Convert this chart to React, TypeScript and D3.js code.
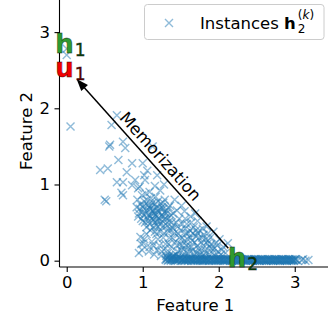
import React, { useEffect, useRef } from 'react'
import * as d3 from 'd3'

// axis limits and ticks
const xDomain: [number, number] = [-0.095, 3.477]
const yDomain: [number, number] = [-0.083, 3.487]
const xTicks = [0, 1, 2, 3]
const yTicks = [0, 1, 2, 3]

// instances h2^(k): sparse upper-left part
const spreadPoints: [number, number][] = [
  [0.05, 1.76], [0.66, 1.91], [0.59, 1.78], [0.57, 1.52], [0.56, 1.5], [0.74, 1.56],
  [0.77, 1.48], [0.68, 1.32], [0.86, 1.28], [0.44, 1.19], [0.54, 1.21], [0.79, 1.16],
  [1.0, 1.28], [1.13, 1.5], [0.66, 1.03], [0.74, 1.03], [0.86, 0.99], [0.96, 0.97],
  [1.03, 1.06], [1.19, 1.12], [0.72, 0.89], [0.5, 0.8], [0.52, 0.78], [0.74, 0.86],
  [0.94, 0.95], [1.09, 0.9], [1.23, 0.92], [1.02, 1.12], [1.06, 1.18], [0.9, 1.06],
  [1.28, 1.0], [1.16, 0.98],
]

// dense core
const corePoints: [number, number][] = [
  [0.93, 0.8], [0.97, 0.74], [1.0, 0.7], [1.02, 0.78], [1.05, 0.66], [1.07, 0.73],
  [1.08, 0.6], [1.1, 0.68], [1.12, 0.55], [1.13, 0.76], [1.15, 0.62], [1.16, 0.5],
  [1.18, 0.7], [1.19, 0.58], [1.2, 0.45], [1.21, 0.64], [1.22, 0.52], [1.24, 0.75],
  [1.25, 0.6], [1.26, 0.44], [1.27, 0.68], [1.28, 0.54], [1.3, 0.48], [1.31, 0.62],
  [1.33, 0.4], [1.34, 0.56], [0.95, 0.62], [0.98, 0.55], [1.01, 0.6], [1.03, 0.5],
  [1.06, 0.56], [1.09, 0.48], [1.11, 0.82], [1.14, 0.44], [1.17, 0.84], [1.2, 0.78],
  [1.23, 0.38], [1.29, 0.8], [1.36, 0.72], [1.38, 0.5], [0.99, 0.86], [1.04, 0.88],
  [1.15, 0.66], [1.19, 0.52], [1.12, 0.62], [1.08, 0.7], [1.25, 0.7], [1.32, 0.66],
  [0.92, 0.7], [1.4, 0.62], [0.96, 0.68], [0.99, 0.64], [1.02, 0.72], [1.04, 0.62],
  [1.06, 0.8], [1.08, 0.52], [1.1, 0.58], [1.11, 0.72], [1.13, 0.66], [1.14, 0.54],
  [1.16, 0.74], [1.17, 0.6], [1.18, 0.46], [1.2, 0.66], [1.21, 0.56], [1.23, 0.68],
  [1.24, 0.48], [1.26, 0.58], [1.27, 0.76], [1.29, 0.64], [1.3, 0.56], [1.32, 0.46],
  [1.34, 0.7], [1.35, 0.52], [1.37, 0.6], [1.39, 0.44], [1.05, 0.44], [1.1, 0.4],
  [1.16, 0.38], [1.28, 0.36], [0.94, 0.58], [1.0, 0.52],
]

// lower middle
const lowerPoints: [number, number][] = [
  [0.97, 0.31], [1.01, 0.23], [0.95, 0.1], [1.12, 0.25], [0.99, 0.14], [1.25, 0.12],
  [1.27, 0.3], [1.18, 0.35], [1.05, 0.35], [1.22, 0.2], [1.3, 0.22], [1.33, 0.1],
  [1.15, 0.08], [1.2, 0.28], [1.35, 0.3], [1.09, 0.18], [1.02, 0.28], [1.08, 0.12],
  [1.14, 0.2], [1.24, 0.06], [1.3, 0.16], [1.34, 0.22], [1.19, 0.14], [0.98, 0.22],
]

// right part, under the arrow
const rightPoints: [number, number][] = [
  [1.42, 0.8], [1.45, 0.66], [1.48, 0.55], [1.5, 0.4], [1.52, 0.3], [1.55, 0.65],
  [1.57, 0.2], [1.58, 0.48], [1.6, 0.36], [1.62, 0.12], [1.63, 0.58], [1.65, 0.26],
  [1.67, 0.44], [1.68, 0.08], [1.7, 0.32], [1.72, 0.52], [1.73, 0.16], [1.75, 0.4],
  [1.77, 0.24], [1.78, 0.06], [1.8, 0.34], [1.82, 0.14], [1.84, 0.45], [1.85, 0.22],
  [1.87, 0.08], [1.89, 0.3], [1.91, 0.16], [1.93, 0.38], [1.95, 0.06], [1.97, 0.24],
  [1.99, 0.12], [2.01, 0.28], [2.03, 0.08], [2.06, 0.18], [2.09, 0.1], [2.12, 0.23],
  [1.4, 0.42], [1.43, 0.25], [1.46, 0.12], [1.47, 0.35], [1.53, 0.08], [1.56, 0.42],
  [1.59, 0.28], [1.61, 0.05], [1.64, 0.18], [1.69, 0.62], [1.71, 0.1], [1.74, 0.3],
  [1.79, 0.42], [1.83, 0.28], [1.88, 0.18], [1.38, 0.18], [1.41, 0.06], [1.44, 0.5],
  [1.51, 0.72], [1.54, 0.15], [1.66, 0.36], [1.76, 0.12], [1.86, 0.36], [1.92, 0.1],
  [2.0, 0.05], [1.49, 0.22], [1.58, 0.1], [1.62, 0.4], [1.81, 0.05], [1.42, 0.36],
  [1.45, 0.2], [1.48, 0.3], [1.5, 0.14], [1.52, 0.48], [1.55, 0.26], [1.57, 0.36],
  [1.6, 0.18], [1.63, 0.3], [1.66, 0.14], [1.68, 0.24], [1.7, 0.4], [1.72, 0.2],
  [1.75, 0.08], [1.78, 0.3], [1.8, 0.2], [1.83, 0.1], [1.86, 0.26], [1.9, 0.22],
  [1.94, 0.16], [1.98, 0.2], [2.04, 0.14], [1.46, 0.45], [1.56, 0.55], [1.36, 0.4],
  [1.39, 0.3], [1.44, 0.08], [1.52, 0.2], [1.64, 0.5], [1.72, 0.36],
]

// collapsed band along feature 2 = 0
const bandPoints: [number, number][] = [
  [1.3, 0.02], [1.32, 0.04], [1.34, 0.01], [1.36, 0.03], [1.37, 0.0], [1.39, 0.05],
  [1.41, 0.02], [1.43, 0.0], [1.45, 0.03], [1.47, 0.01], [1.49, 0.04], [1.51, 0.0],
  [1.53, 0.02], [1.55, 0.01], [1.57, 0.03], [1.59, 0.0], [1.61, 0.02], [1.63, 0.01],
  [1.65, 0.03], [1.67, 0.0], [1.69, 0.02], [1.71, 0.01], [1.73, 0.02], [1.75, 0.0],
  [1.77, 0.03], [1.79, 0.01], [1.81, 0.02], [1.83, 0.0], [1.85, 0.02], [1.87, 0.01],
  [1.89, 0.03], [1.91, 0.0], [1.93, 0.02], [1.95, 0.01], [1.97, 0.02], [1.99, 0.0],
  [2.01, 0.02], [2.03, 0.01], [2.05, 0.02], [2.07, 0.0], [2.09, 0.02], [2.11, 0.01],
  [2.13, 0.02], [2.15, 0.0], [2.17, 0.01], [2.19, 0.02], [2.21, 0.0], [2.23, 0.01],
  [2.25, 0.02], [2.27, 0.0], [2.29, 0.01], [2.31, 0.02], [2.33, 0.0], [2.35, 0.01],
  [2.37, 0.02], [2.39, 0.0], [2.41, 0.01], [2.43, 0.02], [2.45, 0.0], [2.47, 0.01],
  [2.49, 0.02], [2.51, 0.0], [2.53, 0.01], [2.55, 0.02], [2.57, 0.0], [2.59, 0.01],
  [2.61, 0.02], [2.63, 0.0], [2.65, 0.01], [2.67, 0.02], [2.69, 0.0], [2.71, 0.01],
  [2.73, 0.02], [2.75, 0.0], [2.77, 0.01], [2.79, 0.02], [2.81, 0.0], [2.83, 0.01],
  [2.85, 0.02], [2.87, 0.0], [2.89, 0.01], [2.91, 0.02], [2.93, 0.0], [2.95, 0.01],
  [2.97, 0.02], [2.99, 0.0], [3.02, 0.01], [3.09, 0.01], [3.14, 0.0], [3.18, 0.01],
]

// second layer of the band, filling between the first
const bandPoints2: [number, number][] = [
  [1.31, 0.06], [1.33, 0.0], [1.35, 0.07], [1.38, 0.02], [1.4, 0.06], [1.42, 0.04],
  [1.44, 0.01], [1.46, 0.05], [1.48, 0.02], [1.5, 0.03], [1.52, 0.01], [1.54, 0.03],
  [1.56, 0.0], [1.58, 0.02], [1.6, 0.01], [1.62, 0.03], [1.64, 0.0], [1.66, 0.02],
  [1.68, 0.01], [1.7, 0.03], [1.72, 0.0], [1.74, 0.02], [1.76, 0.01], [1.78, 0.02],
  [1.8, 0.0], [1.82, 0.01], [1.84, 0.02], [1.86, 0.0], [1.88, 0.01], [1.9, 0.02],
  [1.92, 0.01], [1.94, 0.0], [1.96, 0.02], [1.98, 0.01], [2.0, 0.02], [2.02, 0.0],
  [2.04, 0.01], [2.06, 0.02], [2.08, 0.01], [2.1, 0.0], [2.12, 0.02], [2.14, 0.01],
  [2.16, 0.02], [2.18, 0.0], [2.2, 0.01], [2.22, 0.02], [2.24, 0.0], [2.26, 0.01],
  [2.28, 0.02], [2.3, 0.0], [2.32, 0.01], [2.34, 0.02], [2.36, 0.0], [2.38, 0.01],
  [2.4, 0.02], [2.42, 0.0], [2.44, 0.01], [2.46, 0.02], [2.48, 0.0], [2.5, 0.01],
  [2.52, 0.02], [2.54, 0.0], [2.56, 0.01], [2.58, 0.02], [2.6, 0.0], [2.62, 0.01],
  [2.64, 0.02], [2.66, 0.0], [2.68, 0.01], [2.7, 0.02], [2.72, 0.0], [2.74, 0.01],
  [2.76, 0.02], [2.78, 0.0], [2.8, 0.01], [2.82, 0.02], [2.84, 0.0], [2.86, 0.01],
  [2.88, 0.02], [2.9, 0.0], [2.92, 0.01], [2.94, 0.02], [2.96, 0.0], [2.98, 0.01],
  [3.0, 0.02], [3.04, 0.0], [3.11, 0.02],
]

// third layer of the band (the band is nearly solid in the source)
const bandPoints3: [number, number][] = [
  [1.305, 0.01], [1.325, 0.03], [1.345, 0.05], [1.365, 0.01], [1.385, 0.03], [1.405, 0.0],
  [1.425, 0.02], [1.455, 0.01], [1.485, 0.03], [1.515, 0.02], [1.545, 0.0], [1.575, 0.01],
  [1.605, 0.03], [1.635, 0.02], [1.665, 0.01], [1.695, 0.0], [1.725, 0.01], [1.755, 0.02],
  [1.785, 0.0], [1.815, 0.01], [1.845, 0.02], [1.875, 0.0], [1.905, 0.01], [1.935, 0.02],
  [1.965, 0.0], [1.995, 0.01], [2.025, 0.02], [2.055, 0.0], [2.085, 0.01], [2.115, 0.02],
  [2.145, 0.01], [2.175, 0.0], [2.205, 0.02], [2.235, 0.01], [2.265, 0.0], [2.295, 0.02],
  [2.325, 0.01], [2.355, 0.0], [2.385, 0.02], [2.415, 0.01], [2.445, 0.0], [2.475, 0.02],
  [2.505, 0.01], [2.535, 0.0], [2.565, 0.02], [2.595, 0.01], [2.625, 0.0], [2.655, 0.02],
  [2.685, 0.01], [2.715, 0.0], [2.745, 0.02], [2.775, 0.01], [2.805, 0.0], [2.835, 0.02],
  [2.865, 0.01], [2.895, 0.0], [2.925, 0.02], [2.955, 0.01], [2.985, 0.0], [3.01, 0.02],
]

// near h1
const topPoints: [number, number][] = [[0.0, 2.78], [0.0, 2.7]]

// memorization arrow (from h2 to u1)
const arrowFrom: [number, number] = [2.126, 0.163]
const arrowTo: [number, number] = [0.13, 2.385]

const pointLabels = [
  { main: 'h', sub: '1', x: -0.15, y: 2.72, color: '#2f9a2f', subColor: '#0c4a0c' },
  { main: 'u', sub: '1', x: -0.15, y: 2.41, color: '#f20000', subColor: '#6a0000' },
  { main: 'h', sub: '2', x: 2.12, y: -0.083, color: '#2f9a2f', subColor: '#0c4a0c' },
]

const FONT = '"DejaVu Sans", sans-serif'
const BLUE = '#1f77b4'

function ScatterChart({ width = 328, height = 320 }) {
  const svgRef = useRef<SVGSVGElement>(null)

  useEffect(() => {
    const svg = d3.select(svgRef.current)
    svg.selectAll('*').remove()

    const left = 59.5
    const bottom = 267
    const x = d3.scaleLinear().domain(xDomain).range([left, 331])
    const y = d3.scaleLinear().domain(yDomain).range([bottom, -5])

    const cross = (cx: number, cy: number, s: number) =>
      `M${cx - s},${cy - s}L${cx + s},${cy + s}M${cx - s},${cy + s}L${cx + s},${cy - s}`

    const points = [
      ...spreadPoints, ...corePoints, ...lowerPoints, ...rightPoints,
      ...bandPoints, ...bandPoints2, ...bandPoints3, ...topPoints,
    ]

    // scatter
    svg.append('g')
      .selectAll('path')
      .data(points)
      .enter().append('path')
      .attr('d', d => cross(x(d[0]), y(d[1]), 4))
      .attr('fill', 'none')
      .attr('stroke', BLUE)
      .attr('stroke-opacity', 0.5)
      .attr('stroke-width', 1.4)

    // x axis
    const gx = svg.append('g')
      .attr('transform', `translate(0,${bottom})`)
      .call(d3.axisBottom(x).tickValues(xTicks).tickSize(5).tickPadding(4.5).tickFormat(d3.format('d')))
    gx.select('.domain').remove()
    gx.selectAll('line').attr('stroke', '#000').attr('stroke-width', 1.1)
    gx.selectAll('text').style('font-family', FONT).style('font-size', '16.5px').attr('fill', '#000')

    // y axis
    const gy = svg.append('g')
      .attr('transform', `translate(${left},0)`)
      .call(d3.axisLeft(y).tickValues(yTicks).tickSize(5).tickPadding(4.5).tickFormat(d3.format('d')))
    gy.select('.domain').remove()
    gy.selectAll('line').attr('stroke', '#000').attr('stroke-width', 1.1)
    gy.selectAll('text').style('font-family', FONT).style('font-size', '16.5px').attr('fill', '#000')

    // spines
    svg.append('line')
      .attr('x1', left).attr('x2', left).attr('y1', -5).attr('y2', bottom)
      .attr('stroke', '#000').attr('stroke-width', 1.1)
    svg.append('line')
      .attr('x1', left).attr('x2', 331).attr('y1', bottom).attr('y2', bottom)
      .attr('stroke', '#000').attr('stroke-width', 1.1)

    // axis labels
    svg.append('text')
      .attr('x', (left + 331) / 2).attr('y', 311)
      .attr('text-anchor', 'middle')
      .style('font-family', FONT).style('font-size', '16.5px')
      .text('Feature 1')
    svg.append('text')
      .attr('transform', `translate(32,${(bottom - 5) / 2}) rotate(-90)`)
      .attr('text-anchor', 'middle')
      .style('font-family', FONT).style('font-size', '16.5px')
      .text('Feature 2')

    // arrow
    const sx = x(arrowFrom[0]), sy = y(arrowFrom[1])
    const tx = x(arrowTo[0]), ty = y(arrowTo[1])
    const len = Math.hypot(tx - sx, ty - sy)
    const ux = (tx - sx) / len, uy = (ty - sy) / len
    const nx = -uy, ny = ux
    const headLen = 12, headW = 4.5
    svg.append('line')
      .attr('x1', sx).attr('y1', sy)
      .attr('x2', tx - ux * (headLen - 2)).attr('y2', ty - uy * (headLen - 2))
      .attr('stroke', '#000').attr('stroke-width', 1.5)
    svg.append('path')
      .attr('d', `M${tx},${ty}L${tx - ux * headLen + nx * headW},${ty - uy * headLen + ny * headW}` +
        `L${tx - ux * headLen - nx * headW},${ty - uy * headLen - ny * headW}Z`)
      .attr('fill', '#000')

    // memorization text along the arrow
    const mx = (sx + tx) / 2 + nx * 11
    const my = (sy + ty) / 2 + ny * 11
    const angle = Math.atan2(-uy, -ux) * 180 / Math.PI
    svg.append('text')
      .attr('transform', `translate(${mx},${my}) rotate(${angle})`)
      .attr('text-anchor', 'middle')
      .attr('dy', '0.35em')
      .style('font-family', FONT).style('font-size', '16.5px')
      .text('Memorization')

    // point labels
    pointLabels.forEach(l => {
      const t = svg.append('text')
        .attr('x', x(l.x)).attr('y', y(l.y))
        .style('font-family', FONT)
        .attr('stroke', '#000').attr('stroke-width', 0.8).attr('stroke-opacity', 0.45)
      t.append('tspan')
        .text(l.main)
        .attr('fill', l.color)
        .style('font-size', '26px').style('font-weight', 'bold')
      t.append('tspan')
        .text(l.sub)
        .attr('dx', 1).attr('dy', 3)
        .attr('fill', l.subColor)
        .style('font-size', '17px')
    })

    // legend
    const lg = svg.append('g')
    lg.append('rect')
      .attr('x', 144.5).attr('y', 4.5).attr('width', 179.5).attr('height', 35).attr('rx', 3)
      .attr('fill', '#fff').attr('fill-opacity', 0.8)
      .attr('stroke', '#cccccc').attr('stroke-width', 1)
    lg.append('path')
      .attr('d', cross(169, 23, 4))
      .attr('fill', 'none').attr('stroke', BLUE).attr('stroke-opacity', 0.5).attr('stroke-width', 1.4)
    const lt = lg.append('text')
      .attr('x', 200).attr('y', 28.5)
      .style('font-family', FONT).style('font-size', '16.5px')
    lt.append('tspan').text('Instances ')
    lt.append('tspan').text('h').style('font-weight', 'bold')
    const lw = (lt.node() as SVGTextElement).getComputedTextLength()
    const sxPos = 200 + lw + 2
    lg.append('text')
      .attr('x', sxPos).attr('y', 33)
      .style('font-family', FONT).style('font-size', '12px')
      .text('2')
    const sup = lg.append('text')
      .attr('x', sxPos).attr('y', 18.5)
      .style('font-family', FONT).style('font-size', '12px')
    sup.append('tspan').text('(')
    sup.append('tspan').text('k').style('font-style', 'italic')
    sup.append('tspan').text(')')
  }, [width, height])

  return (
    <svg
      ref={svgRef}
      width={width}
      height={height}
      style={{ position: 'absolute', left: 0, top: 0, background: '#fff' }}
    />
  )
}

export default function App() {
  return <ScatterChart />
}
